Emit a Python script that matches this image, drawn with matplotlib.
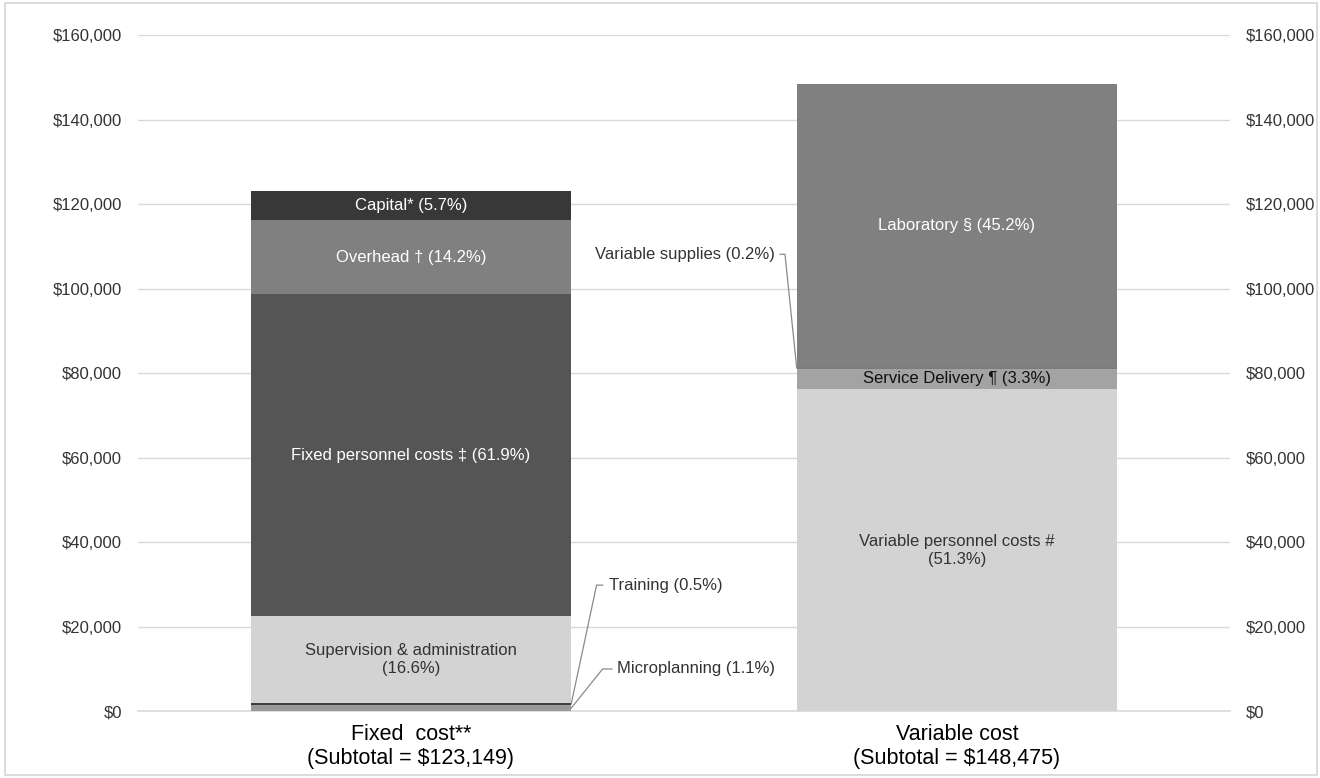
import matplotlib
matplotlib.use("Agg")
import matplotlib.pyplot as plt
from matplotlib.patches import Rectangle
from matplotlib.ticker import FuncFormatter
import numpy as np

# ── Daten ───────────────────────────────────────────────────────────────
categories = ["Fixed  cost**\n(Subtotal = $123,149)",
              "Variable cost\n(Subtotal = $148,475)"]
subtotals = [123149, 148475]

fixed_names = ["Microplanning", "Training", "Supervision & administration",
               "Fixed personnel costs \u2021", "Overhead \u2020", "Capital*"]
fixed_pct = [1.1, 0.5, 16.6, 61.9, 14.2, 5.7]

var_names = ["Variable personnel costs #", "Service Delivery \u00b6",
             "Variable supplies", "Laboratory \u00a7"]
var_pct = [51.3, 3.3, 0.2, 45.2]

yticks = np.arange(0, 160001, 20000)

# ── Stil ────────────────────────────────────────────────────────────────
plt.rcParams["font.family"] = ["Liberation Sans", "DejaVu Sans"]

fixed_colors = ["#9a9a9a", "#404040", "#d3d3d3", "#555555", "#808080", "#383838"]
var_colors = ["#d3d3d3", "#a3a3a3", "#7c7c7c", "#808080"]

fig = plt.figure(figsize=(13.2, 7.78), dpi=100)
ax = fig.add_axes([0.1045, 0.0861, 0.8273, 0.8689])

width = 0.587
x = np.arange(len(categories))

def draw_stack(xpos, pcts, total, colors):
    vals = [total * p / 100 for p in pcts]
    bottoms = np.concatenate([[0], np.cumsum(vals)[:-1]])
    ax.bar([xpos] * len(vals), vals, bottom=bottoms, width=width,
           color=colors, edgecolor="none", zorder=2)
    return vals, bottoms

fv, fb = draw_stack(x[0], fixed_pct, subtotals[0], fixed_colors)
vv, vb = draw_stack(x[1], var_pct, subtotals[1], var_colors)

# ── Beschriftungen in den Segmenten ─────────────────────────────────────
fs = 12
def seg_label(xpos, vals, bottoms, i, text, color):
    ax.text(xpos, bottoms[i] + vals[i] / 2, text, ha="center", va="center",
            fontsize=fs, color=color, zorder=3, linespacing=1.25)

seg_label(x[0], fv, fb, 2, "Supervision & administration\n(16.6%)", "#333333")
seg_label(x[0], fv, fb, 3, f"{fixed_names[3]} ({fixed_pct[3]}%)", "white")
seg_label(x[0], fv, fb, 4, f"{fixed_names[4]} ({fixed_pct[4]}%)", "white")
seg_label(x[0], fv, fb, 5, f"{fixed_names[5]} ({fixed_pct[5]}%)", "white")

seg_label(x[1], vv, vb, 0, f"{var_names[0]}\n({var_pct[0]}%)", "#333333")
seg_label(x[1], vv, vb, 1, f"{var_names[1]} ({var_pct[1]}%)", "#111111")
seg_label(x[1], vv, vb, 3, f"{var_names[3]} ({var_pct[3]}%)", "white")

# ── Leader-Linien für kleine Segmente ───────────────────────────────────
lc = "#8a8a8a"
edge_r = x[0] + width / 2
edge_l = x[1] - width / 2

# Training
y0 = fb[1] + fv[1] / 2
ax.plot([edge_r, 0.340, 0.351], [y0, 29800, 29800], color=lc, lw=0.9, zorder=3)
ax.text(0.362, 29800, f"{fixed_names[1]} ({fixed_pct[1]}%)", ha="left",
        va="center", fontsize=fs, color="#333333")
# Microplanning
y0 = fb[0] + fv[0] / 2
ax.plot([edge_r, 0.351, 0.368], [y0, 9950, 9950], color=lc, lw=0.9, zorder=3)
ax.text(0.377, 9950, f"{fixed_names[0]} ({fixed_pct[0]}%)", ha="left",
        va="center", fontsize=fs, color="#333333")
# Variable supplies
y0 = vb[2] + vv[2] / 2
ax.plot([edge_l, 0.685, 0.676], [y0, 108100, 108100], color=lc, lw=0.9, zorder=3)
ax.text(0.666, 108100, f"{var_names[2]} ({var_pct[2]}%)", ha="right",
        va="center", fontsize=fs, color="#333333")

# ── Achsen ──────────────────────────────────────────────────────────────
ax.set_xlim(-0.5, 1.5)
ax.set_ylim(0, 160000)
ax.set_yticks(yticks)
ax.yaxis.set_major_formatter(FuncFormatter(lambda v, p: f"${v:,.0f}"))
ax.tick_params(axis="y", length=0, pad=11.5, labelsize=fs, labelcolor="#333333",
               labelright=True, labelleft=True)
ax.set_xticks(x)
ax.set_xticklabels(categories, fontsize=15.5, color="black", linespacing=1.15)
ax.tick_params(axis="x", length=0, pad=9.5)
ax.grid(axis="y", color="#d9d9d9", lw=1, zorder=0)
ax.axhline(0, color="#d9d9d9", lw=1.2, zorder=1, clip_on=False)
ax.set_axisbelow(True)
for s in ax.spines.values():
    s.set_visible(False)

# Rahmen um die Grafik
fig.patches.append(Rectangle((0.0038, 0.0039), 0.9939, 0.9922,
                             transform=fig.transFigure, fill=False,
                             edgecolor="#d5d5d5", lw=1.2))

fig.savefig("out.png", dpi=100)
